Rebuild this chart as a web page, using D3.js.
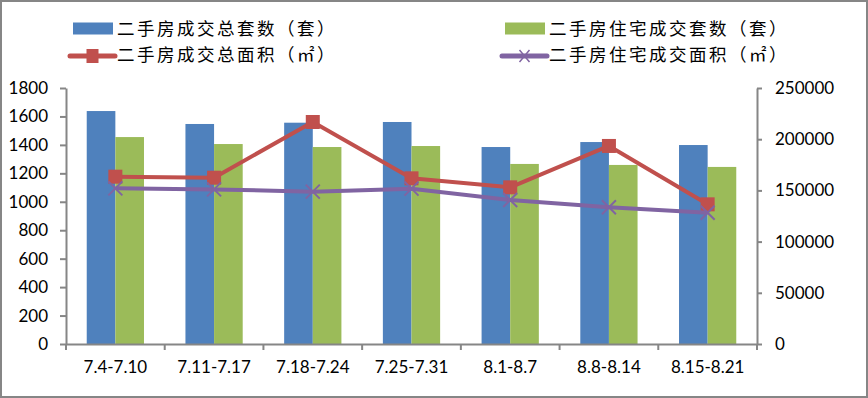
<!DOCTYPE html>
<html>
<head>
<meta charset="utf-8">
<script src="https://cdn.jsdelivr.net/npm/d3@7"></script>
<style>
  html, body { margin: 0; padding: 0; background: #fff; }
  svg { display: block; }
</style>
</head>
<body>
<div id="chart"></div>
<script>
// data
const categories = ["7.4-7.10", "7.11-7.17", "7.18-7.24", "7.25-7.31", "8.1-8.7", "8.8-8.14", "8.15-8.21"];
const totalSets = [1638, 1547, 1556, 1561, 1385, 1420, 1399];
const residentialSets = [1455, 1406, 1385, 1392, 1266, 1259, 1245];
const totalArea = [163400, 162400, 216800, 161800, 153000, 193400, 136400];
const residentialArea = [152000, 151000, 148800, 151700, 140600, 133500, 128200];
const leftTicks = [0, 200, 400, 600, 800, 1000, 1200, 1400, 1600, 1800];
const rightTicks = [0, 50000, 100000, 150000, 200000, 250000];
const seriesNames = ["二手房成交总套数（套）", "二手房住宅成交套数（套）", "二手房成交总面积（㎡）", "二手房住宅成交面积（㎡）"];

const W = 868, H = 398;
const plotLeft = 66, plotRight = 757, plotTop = 88, plotBottom = 344;
const axisColor = "#868686";
const colors = { blue: "#4F81BD", green: "#9BBB59", red: "#C0504D", purple: "#8064A2" };

const svg = d3.select("#chart").append("svg")
    .attr("width", W)
    .attr("height", H);

// outer frame
svg.append("rect")
    .attr("x", 1).attr("y", 1)
    .attr("width", W - 2).attr("height", H - 2)
    .attr("fill", "#fff")
    .attr("stroke", axisColor)
    .attr("stroke-width", 2);

// scales
const x = d3.scaleBand().domain(categories).range([plotLeft, plotRight]);
const barW = x.bandwidth() * 0.29;
const xSub = d3.scaleBand().domain(["total", "res"]).range([0, barW * 2]);
const groupOffset = (x.bandwidth() - barW * 2) / 2;
const yL = d3.scaleLinear().domain([0, 1800]).range([plotBottom, plotTop]);
const yR = d3.scaleLinear().domain([0, 250000]).range([plotBottom, plotTop]);

// bars
const bars = svg.append("g");
bars.selectAll("rect.total")
    .data(totalSets)
    .join("rect")
    .attr("class", "total")
    .attr("x", (d, i) => x(categories[i]) + groupOffset + xSub("total"))
    .attr("y", d => yL(d))
    .attr("width", xSub.bandwidth())
    .attr("height", d => yL(0) - yL(d))
    .attr("fill", colors.blue);

bars.selectAll("rect.res")
    .data(residentialSets)
    .join("rect")
    .attr("class", "res")
    .attr("x", (d, i) => x(categories[i]) + groupOffset + xSub("res"))
    .attr("y", d => yL(d))
    .attr("width", xSub.bandwidth())
    .attr("height", d => yL(0) - yL(d))
    .attr("fill", colors.green);

// axes
const styleAxis = g => {
    g.selectAll(".domain, .tick line").attr("stroke", axisColor).attr("stroke-width", 2);
    g.selectAll("text")
        .attr("fill", "#000")
        .style("font-family", "Lato, 'Open Sans', sans-serif")
        .style("font-size", "17px");
};

svg.append("g")
    .attr("transform", `translate(${plotLeft},0)`)
    .call(d3.axisLeft(yL).tickValues(leftTicks).tickFormat(d3.format("d"))
        .tickSize(6).tickSizeOuter(0).tickPadding(12))
    .call(styleAxis);

svg.append("g")
    .attr("transform", `translate(${plotRight},0)`)
    .call(d3.axisRight(yR).tickValues(rightTicks).tickFormat(d3.format("d"))
        .tickSize(5).tickSizeOuter(0).tickPadding(13))
    .call(styleAxis);

// x axis: labels at band centres, ticks at band boundaries
const xAxis = svg.append("g")
    .attr("transform", `translate(0,${plotBottom})`)
    .call(d3.axisBottom(x).tickSize(0).tickPadding(17))
    .call(styleAxis);

xAxis.selectAll(".edge")
    .data(d3.range(categories.length + 1))
    .join("line")
    .attr("class", "edge")
    .attr("x1", i => plotLeft + i * x.step())
    .attr("x2", i => plotLeft + i * x.step())
    .attr("y1", 0).attr("y2", 6)
    .attr("stroke", axisColor)
    .attr("stroke-width", 2);

// lines
const cx = i => x(categories[i]) + x.bandwidth() / 2;

const areaLine = d3.line().x((d, i) => cx(i)).y(d => yR(d));
svg.append("path")
    .datum(totalArea)
    .attr("d", areaLine)
    .attr("fill", "none")
    .attr("stroke", colors.red)
    .attr("stroke-width", 4)
    .attr("stroke-linejoin", "round");

svg.append("g").selectAll("rect")
    .data(totalArea)
    .join("rect")
    .attr("x", (d, i) => cx(i) - 7)
    .attr("y", d => yR(d) - 7)
    .attr("width", 14).attr("height", 14)
    .attr("fill", colors.red);

svg.append("path")
    .datum(residentialArea)
    .attr("d", areaLine)
    .attr("fill", "none")
    .attr("stroke", colors.purple)
    .attr("stroke-width", 4)
    .attr("stroke-linejoin", "round");

svg.append("g").selectAll("path")
    .data(residentialArea)
    .join("path")
    .attr("d", (d, i) => {
        const px = cx(i), py = yR(d), s = 7;
        return `M${px - s},${py - s}L${px + s},${py + s}M${px - s},${py + s}L${px + s},${py - s}`;
    })
    .attr("stroke", colors.purple)
    .attr("stroke-width", 2);

// legend
const legend = svg.append("g")
    .style("font-family", "'Noto Sans CJK SC', sans-serif")
    .style("font-size", "17.5px")
    .style("letter-spacing", "2.5px");

const legendItems = [
    { name: seriesNames[0], type: "bar", color: colors.blue, x: 73, y: 28.5 },
    { name: seriesNames[1], type: "bar", color: colors.green, x: 505, y: 28.5 },
    { name: seriesNames[2], type: "square", color: colors.red, x: 70, y: 56 },
    { name: seriesNames[3], type: "cross", color: colors.purple, x: 502, y: 56 }
];

legendItems.forEach(it => {
    const g = legend.append("g");
    if (it.type === "bar") {
        g.append("rect")
            .attr("x", it.x).attr("y", it.y - 6)
            .attr("width", 40).attr("height", 12)
            .attr("fill", it.color);
    } else {
        g.append("line")
            .attr("x1", it.x).attr("x2", it.x + 45)
            .attr("y1", it.y).attr("y2", it.y)
            .attr("stroke", it.color)
            .attr("stroke-width", 5)
            .attr("stroke-linecap", "round");
        const mx = it.x + 22.5;
        if (it.type === "square") {
            g.append("rect")
                .attr("x", mx - 6).attr("y", it.y - 7)
                .attr("width", 12).attr("height", 14)
                .attr("fill", it.color);
        } else {
            g.append("path")
                .attr("d", `M${mx - 5},${it.y - 6}L${mx + 5},${it.y + 6}M${mx - 5},${it.y + 6}L${mx + 5},${it.y - 6}`)
                .attr("stroke", it.color)
                .attr("stroke-width", 1.5);
        }
    }
    g.append("text")
        .attr("x", it.type === "bar" ? it.x + 44 : it.x + 47)
        .attr("y", it.type === "bar" ? it.y : it.y - 1.5)
        .attr("dy", "0.35em")
        .attr("fill", "#000")
        .text(it.name);
});
</script>
</body>
</html>
